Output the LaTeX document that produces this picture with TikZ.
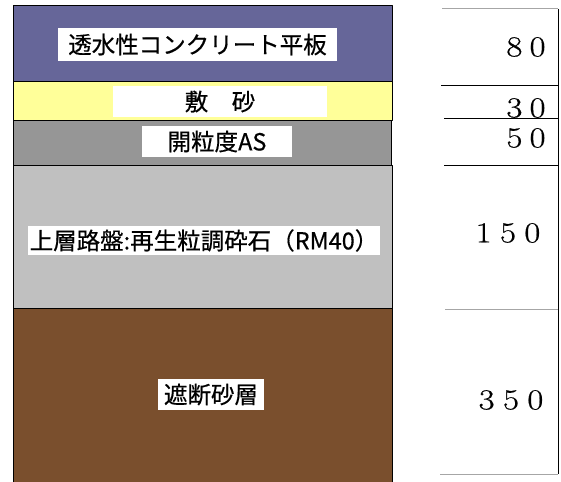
\documentclass[tikz,border=0pt]{standalone}
\usepackage{fontspec}
\newfontfamily\jp[FakeBold=0.5]{Noto Sans CJK JP}
\newfontfamily\dimfont[FakeBold=0.5]{Latin Modern Roman}
\definecolor{slab}{HTML}{666699}
\definecolor{sand}{HTML}{FFFF99}
\definecolor{asph}{HTML}{969696}
\definecolor{base}{HTML}{C0C0C0}
\definecolor{soil}{HTML}{7A4F2D}
\tikzset{lbl/.style={fill=white,inner sep=0pt,font=\jp\fontsize{23.5}{23.5}\selectfont},
  dim/.style={inner sep=0pt,font=\dimfont\fontsize{29}{29}\selectfont},
  rule/.style={line width=1pt}}
\newcommand\dg[1]{\scalebox{1.2}[1]{#1}}
\begin{document}
\begin{tikzpicture}[x=1pt,y=-1pt,line join=round]
		\useasboundingbox (0,0) rectangle (561,481);
		\clip (0,0) rectangle (561,481);
		% layers
		\draw[rule,fill=slab] (13.5,6) rectangle (392,82);
		\draw[rule,fill=sand] (13.5,82) rectangle (392,121);
		\draw[rule,fill=asph] (13.5,121) rectangle (391,165);
		\draw[rule,fill=base] (13.5,165) rectangle (392,308);
		\draw[rule,fill=soil] (13.5,308) rectangle (392,490);
		% labels
		\node[lbl,minimum width=279,minimum height=33] (slab) at (197.5,44.5) {透水性コンクリート平板};
		\node[lbl,minimum width=214,minimum height=31] (sand) at (220,101.5) {敷　砂};
		\node[lbl,minimum width=150,minimum height=31] (asph) at (217,141.5) {開粒度AS};
		\node[lbl,minimum width=352,minimum height=29] (base) at (204,240.5) {上層路盤:再生粒調砕石（RM40）};
		\node[lbl,minimum width=106,minimum height=31] (soil) at (211,394.5) {遮断砂層};
		% thicknesses
		\draw[rule,gray!70] (442,9)--(558,9);
		\draw[rule] (441,86)--(558,86);
		\draw[rule] (444,119)--(558,119);
		\draw[rule] (444,165.5)--(558,165.5);
		\draw[rule,gray!70] (445,309)--(558,309);
		\draw[rule,gray!70] (440,474)--(558,474);
		\draw[rule] (558,9)--(558,474);
		\node[dim] (t80) at (526,47) {\dg{8\hspace{6pt}0}};
		\node[dim] (t30) at (526,108) {\dg{3\hspace{6pt}0}};
		\node[dim] (t50) at (526,138) {\dg{5\hspace{6pt}0}};
		\node[dim] (t150) at (508,233) {\dg{1\hspace{7pt}5\hspace{7pt}0}};
		\node[dim] (t350) at (511,400) {\dg{3\hspace{7pt}5\hspace{7pt}0}};
\end{tikzpicture}
\end{document}
